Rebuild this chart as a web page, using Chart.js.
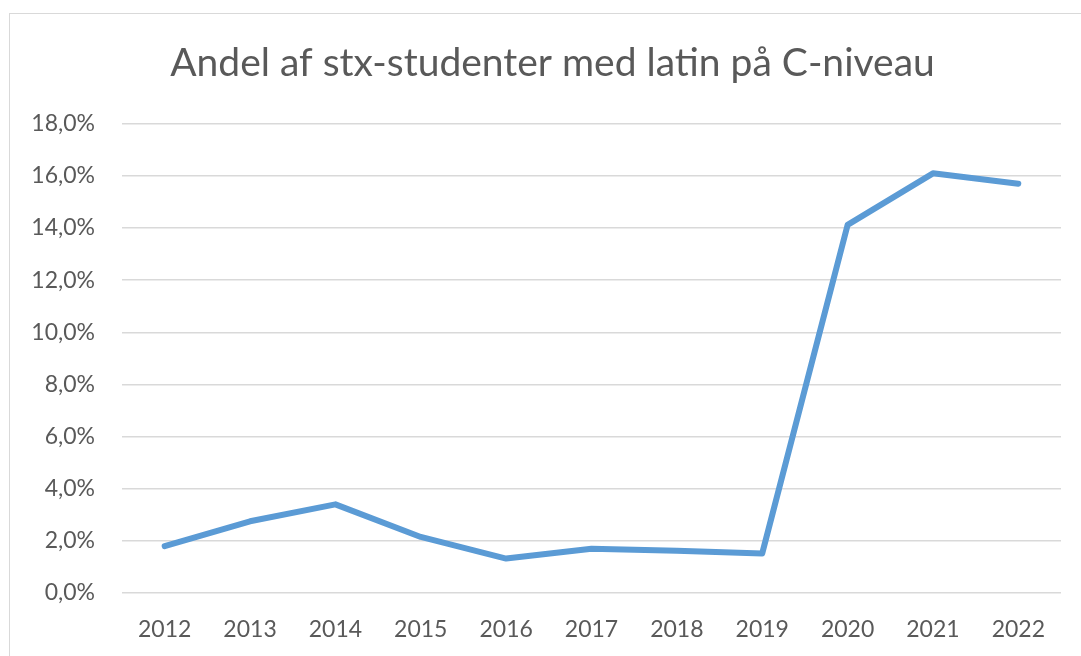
<!DOCTYPE html>
<html>
<head>
<meta charset="utf-8">
<script src="https://cdn.jsdelivr.net/npm/chart.js@4/dist/chart.umd.min.js"></script>
<style>
  html, body { margin: 0; padding: 0; background: #ffffff; }
  #frame { position: absolute; left: 9px; top: 13px; width: 1100px; height: 700px;
           border-left: 1px solid #d9d9d9; border-top: 1px solid #d9d9d9; box-sizing: border-box; }
  #wrap { position: absolute; left: 0; top: 0; width: 1081px; height: 656px; }
</style>
</head>
<body>
<div id="frame"></div>
<div id="wrap"><canvas id="c" width="1081" height="656"></canvas></div>
<script>
const years = ['2012','2013','2014','2015','2016','2017','2018','2019','2020','2021','2022'];
const shareLatinC = [1.8, 2.75, 3.4, 2.15, 1.32, 1.7, 1.62, 1.52, 14.12, 16.1, 15.7];
const yTicks = [0, 2, 4, 6, 8, 10, 12, 14, 16, 18];
const titleText = 'Andel af stx-studenter med latin på C-niveau';

const textColor = '#595959';
const fontFamily = 'Lato, "Open Sans", sans-serif';

// centre the title over the whole (framed) chart rather than the padded box
const titleShift = {
  id: 'titleShift',
  afterLayout(chart) {
    const t = chart.titleBlock;
    if (t) { t.left += 8; t.right += 9; }
  }
};

new Chart(document.getElementById('c'), {
  type: 'line',
  data: {
    labels: years,
    datasets: [{
      data: shareLatinC,
      borderColor: '#5b9bd5',
      backgroundColor: '#5b9bd5',
      borderWidth: 6,
      pointRadius: 0,
      pointHoverRadius: 0,
      tension: 0,
      borderCapStyle: 'round',
      borderJoinStyle: 'round',
      fill: false
    }]
  },
  plugins: [titleShift],
  options: {
    responsive: false,
    animation: false,
    devicePixelRatio: 1,
    layout: { padding: { left: 27, right: 20, top: 0, bottom: 0 } },
    plugins: {
      legend: { display: false },
      tooltip: { enabled: false },
      title: {
        display: true,
        text: titleText,
        color: textColor,
        font: { family: fontFamily, size: 39, weight: 'normal' },
        padding: { top: 40, bottom: 37 }
      }
    },
    scales: {
      x: {
        offset: true,
        grid: { display: false, drawTicks: false },
        border: { display: false },
        ticks: { color: textColor, font: { family: fontFamily, size: 23 }, padding: 23, maxRotation: 0 },
        afterFit: s => { s.height = 63; }
      },
      y: {
        min: 0, max: 18,
        afterBuildTicks: s => { s.ticks = yTicks.map(v => ({ value: v })); },
        grid: { color: '#d9d9d9', lineWidth: 1.5, drawTicks: false },
        border: { display: false },
        ticks: {
          color: textColor,
          font: { family: fontFamily, size: 23 },
          padding: 27,
          callback: v => v.toFixed(1).replace('.', ',') + '%'
        },
        afterFit: s => { s.width = 95; }
      }
    }
  }
});
</script>
</body>
</html>
